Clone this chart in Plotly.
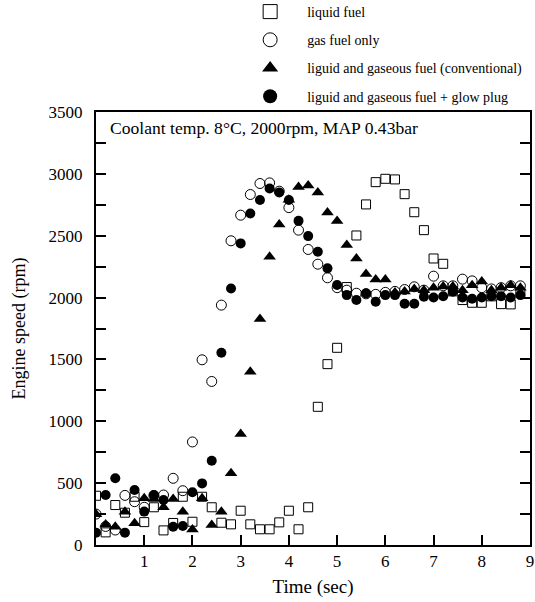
import plotly.graph_objects as go

# ---- data ----
time_s = [0.0, 0.2, 0.4, 0.6, 0.8, 1.0, 1.2, 1.4, 1.6, 1.8,
          2.0, 2.2, 2.4, 2.6, 2.8, 3.0, 3.2, 3.4, 3.6, 3.8,
          4.0, 4.2, 4.4, 4.6, 4.8, 5.0, 5.2, 5.4, 5.6, 5.8,
          6.0, 6.2, 6.4, 6.6, 6.8, 7.0, 7.2, 7.4, 7.6, 7.8,
          8.0, 8.2, 8.4, 8.6, 8.8]

liquid_fuel = [398, 102, 323, 261, 390, 185, 305, 118, 178, 390,
               188, 390, 305, 180, 167, 277, 167, 127, 127, 183,
               277, 127, 305, 1117, 1462, 1594, 2085, 2502, 2753, 2933,
               2960, 2955, 2836, 2690, 2545, 2316, 2273, 2050, 1980, 1958,
               1958, 2010, 1947, 1945, 2040]

gas_only = [250, 150, 121, 401, 350, 305, 400, 404, 539, 439,
            833, 1497, 1322, 1939, 2459, 2666, 2833, 2922, 2927, 2860,
            2727, 2545, 2389, 2270, 2160, 2080, 2060, 2035, 2030, 2026,
            2042, 2050, 2065, 2087, 2060, 2173, 2095, 2095, 2149, 2135,
            2080, 2070, 2080, 2095, 2095]

conventional = [248, 165, 148, 269, 175, 377, 372, 305, 372, 269,
                125, 377, 162, 269, 579, 897, 1400, 1826, 2329, 2591,
                2790, 2893, 2905, 2850, 2688, 2618, 2424, 2316, 2190, 2147,
                2147, 2040, 2050, 2070, 2060, 2080, 2090, 2090, 2060, 2100,
                2130, 2060, 2080, 2100, 2080]

glow_plug = [100, 404, 539, 100, 444, 270, 404, 364, 148, 153,
             427, 498, 681, 1554, 2074, 2438, 2680, 2788, 2882, 2850,
             2788, 2620, 2497, 2370, 2236, 2101, 2020, 1980, 2034, 1966,
             2020, 2020, 1950, 1950, 2006, 2000, 2010, 2047, 2000, 1990,
             2000, 2010, 2010, 2000, 2020]

series_names = ["liquid fuel", "gas fuel only",
                "liguid and gaseous fuel (conventional)",
                "liguid and gaseous fuel + glow plug"]

x_ticks = [1, 2, 3, 4, 5, 6, 7, 8, 9]
y_ticks = [0, 500, 1000, 1500, 2000, 2500, 3000, 3500]

FONT = "Liberation Serif"

styles = [
    dict(symbol="square-open", size=9, color="black", line=dict(width=1, color="black")),
    dict(symbol="circle-open", size=10, color="black", line=dict(width=1, color="black")),
    dict(symbol="triangle-up", size=11, color="black", line=dict(width=0)),
    dict(symbol="circle", size=10, color="black", line=dict(width=0)),
]
legend_sizes = [14, 14, 14, 14]
datasets = [liquid_fuel, gas_only, conventional, glow_plug]

fig = go.Figure()
for name, ys, st in zip(series_names, datasets, styles):
    fig.add_trace(go.Scatter(x=time_s, y=ys, mode="markers", name=name,
                             marker=st, showlegend=False, cliponaxis=True))
for i, (name, st) in enumerate(zip(series_names, styles)):
    lst = dict(st)
    lst["size"] = legend_sizes[i]
    fig.add_trace(go.Scatter(x=[None], y=[None], mode="markers", name=name,
                             marker=lst, showlegend=True, legendgroup=f"g{i}"))

fig.update_layout(
    width=535, height=602,
    margin=dict(l=96, r=5, t=112, b=57, autoexpand=False),
    paper_bgcolor="white", plot_bgcolor="white",
    font=dict(family=FONT, color="black", size=16),
    showlegend=True,
    legend=dict(x=0.316, y=1.0, xanchor="left", yanchor="bottom",
                font=dict(family=FONT, size=14, color="black"),
                itemwidth=64, tracegroupgap=7, bgcolor="rgba(0,0,0,0)",
                itemsizing="trace"),
    xaxis=dict(range=[0, 9], tickvals=x_ticks, ticktext=[str(v) for v in x_ticks],
               ticks="inside", ticklen=10, tickwidth=2, tickcolor="black",
               showline=True, linewidth=2, linecolor="black", mirror=True,
               showgrid=False, zeroline=False,
               title=dict(text="Time (sec)", font=dict(family=FONT, size=19), standoff=9),
               tickfont=dict(family=FONT, size=17)),
    yaxis=dict(range=[0, 3500], tickvals=y_ticks, ticktext=[str(v) for v in y_ticks],
               ticks="inside", ticklen=10, tickwidth=2, tickcolor="black",
               showline=True, linewidth=2, linecolor="black", mirror="allticks",
               showgrid=False, zeroline=False, ticklabelstandoff=8,
               minor=dict(dtick=250, tick0=250, ticks="inside", ticklen=10, tickwidth=2,
                          tickcolor="black", showgrid=False),
               title=dict(text="Engine speed (rpm)", font=dict(family=FONT, size=18), standoff=18),
               tickfont=dict(family=FONT, size=17)),
    annotations=[dict(text="Coolant temp. 8\u00b0C, 2000rpm, MAP 0.43bar",
                      xref="paper", yref="paper", x=0.027, y=0.962,
                      xanchor="left", yanchor="middle", showarrow=False,
                      font=dict(family=FONT, size=17.6, color="black"))],
)

fig.write_html("out.html")
